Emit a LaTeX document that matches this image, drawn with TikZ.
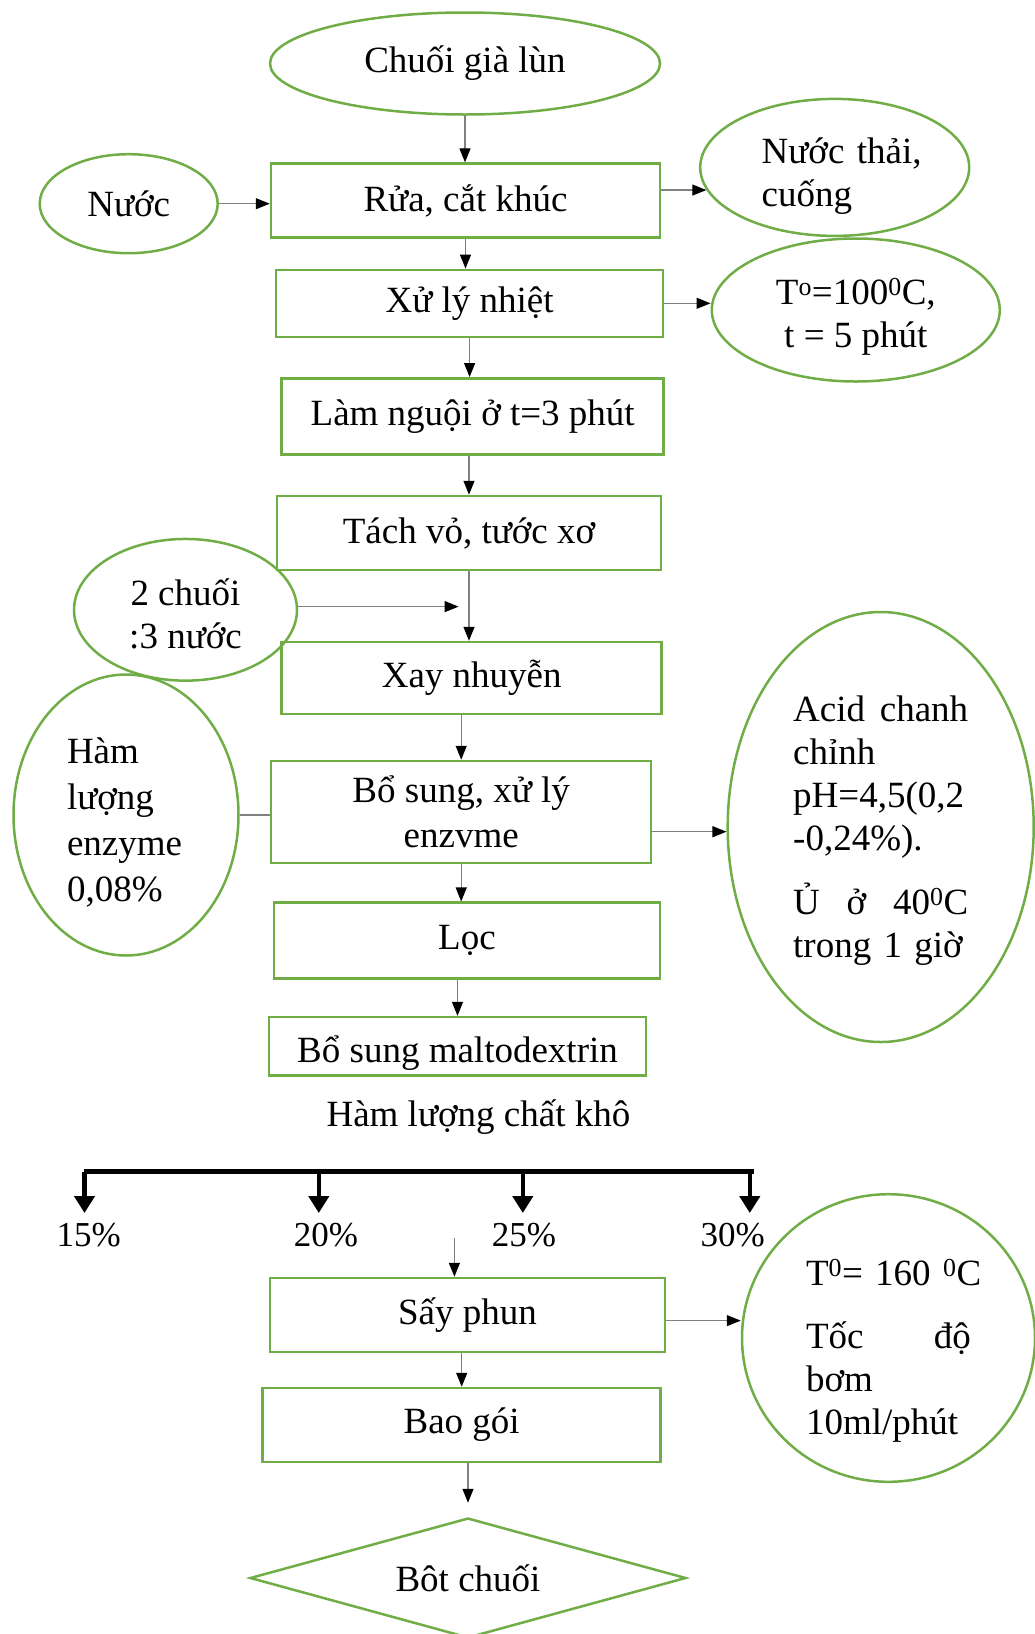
\documentclass[tikz,border=0pt]{standalone}
\usepackage{fontspec}
\setmainfont{Liberation Serif}
\usetikzlibrary{arrows.meta,shapes.geometric}
\definecolor{gborder}{RGB}{112,173,71}
\definecolor{conn}{RGB}{128,128,128}
\begin{document}
\begin{tikzpicture}[x=1pt,y=-1pt,
  box/.style={draw=gborder,line width=2.5pt,rectangle,inner sep=0pt,align=center,font=\fontsize{37}{45}\selectfont},
  oval/.style={draw=gborder,line width=2.5pt,ellipse,inner sep=0pt,font=\fontsize{37}{43}\selectfont},
  arr/.style={draw=conn,line width=1.2pt,-{Triangle[length=14pt,width=11pt,color=black]}},
  plainline/.style={draw=conn,line width=1.2pt},
  barline/.style={draw=black,line width=5.5pt},
  thickarr/.style={draw=black,line width=4.5pt,-{Triangle[length=17pt,width=20pt]}},
  lbl/.style={inner sep=0pt,font=\fontsize{37}{43}\selectfont},
  pct/.style={inner sep=0pt,font=\fontsize{35}{40}\selectfont}
]
\useasboundingbox (0,0) rectangle (1035,1634);

% main column
\node[oval,minimum width=390pt,minimum height=102pt] (e1) at (465,63.5) {Chuối già lùn};
\node[box,minimum width=389pt,minimum height=74pt] (b1) at (465.5,200.6) {Rửa, cắt khúc};
\node[box,minimum width=387pt,minimum height=67pt] (b2) at (469.6,303.3) {Xử lý nhiệt};
\node[box,minimum width=382pt,minimum height=76pt] (b3) at (472.7,416.3) {Làm nguội ở t=3 phút};
\node[box,minimum width=384pt,minimum height=74pt] (b4) at (469,533) {Tách vỏ, tước xơ};
\node[box,minimum width=380pt,minimum height=72pt] (b5) at (471.7,678) {Xay nhuyễn};
\node[box,minimum width=380pt,minimum height=102pt] (b6) at (461.2,812) {Bổ sung, xử lý\\enzvme};
\node[box,minimum width=386pt,minimum height=76pt] (b7) at (467,940.7) {Lọc};
\node[box,minimum width=377pt,minimum height=58.6pt] (b8) at (457.5,1046.4) {\raisebox{-7pt}[\height][\depth]{Bổ sung maltodextrin}};
\node[lbl] (hlck) at (478.4,1117.3) {Hàm lượng chất khô};
\node[box,minimum width=395pt,minimum height=74pt] (b9) at (467.5,1315) {Sấy phun};
\node[box,minimum width=398pt,minimum height=74pt] (b10) at (461.7,1425) {Bao gói};
\node[diamond,draw=gborder,line width=2.5pt,aspect=3.6,inner sep=0pt,minimum width=436pt,minimum height=120pt,font=\fontsize{37}{43}\selectfont] (dia) at (468,1578) {Bôt chuối};

% side ellipses
\node[oval,minimum width=269pt,minimum height=137pt,text width=146pt,align=left] (thai) at (834.7,167.4) {\rule{0pt}{44pt}\makebox[146pt][l]{Nước thải,}\\cuống};
\node[oval,minimum width=178pt,minimum height=99pt] (nuoc) at (128.7,203.7) {Nước};
\node[oval,minimum width=288pt,minimum height=143pt,align=center] (temp) at (855.8,310) {\rule{0pt}{40pt}T\textsuperscript{o}=100\textsuperscript{0}C,\\t = 5 phút};
\node[oval,minimum width=223pt,minimum height=141.7pt,align=center] (hai) at (185.5,609.8) {\rule{0pt}{34pt}2 chuối\\:3 nước};
\node[oval,minimum width=225pt,minimum height=281pt,text width=118pt,align=left,font=\fontsize{37}{46}\selectfont] (ham) at (126,815) {\rule{0pt}{40pt}Hàm\\lượng\\enzyme\\0,08\%};
\node[oval,minimum width=306pt,minimum height=430pt,text width=175pt,align=left] (acid) at (880.7,827) {\rule{0pt}{33pt}Acid\hfill chanh\\chỉnh\\pH=4,5(0,2\\-0,24\%).\\[21pt]Ủ\hfill ở\hfill 40\textsuperscript{0}C\\trong 1 giờ};
\node[oval,inner sep=-12pt,minimum width=293pt,minimum height=287.6pt,text width=165pt,align=left] (spd) at (888.5,1338) {\rule{0pt}{52pt}\makebox[165pt][l]{T\textsuperscript{0}= 160 \textsuperscript{0}C}\\[20pt]Tốc\hfill độ\\bơm\\10ml/phút};

% percent labels
\node[pct] (p15) at (88.6,1235) {15\%};
\node[pct] (p20) at (326,1235) {20\%};
\node[pct] (p25) at (524,1235) {25\%};
\node[pct] (p30) at (732.7,1235) {30\%};

% coordinates
\coordinate (haitip) at (458.6,606.6);
\coordinate (barL) at (84,1171.5);
\coordinate (barR) at (753.8,1171.5);
\coordinate (a1) at (84.5,1171.5);
\coordinate (a2) at (318.8,1171.5);
\coordinate (a3) at (522.8,1171.5);
\coordinate (a4) at (749.8,1171.5);
\coordinate (t1) at (84.5,1213);
\coordinate (t2) at (318.8,1213);
\coordinate (t3) at (522.8,1213);
\coordinate (t4) at (749.8,1213);
\coordinate (sfin) at (454.4,1238);

% connectors
\draw[arr] (e1.south) -- (e1.south |- b1.north);
\draw[arr] (nuoc.east) -- (nuoc.east -| b1.west);
\draw[arr] (b1.east |- thai.190) -- (thai.190);
\draw[arr] (b1.south) -- (b1.south |- b2.north);
\draw[arr] (b2.east) -- (b2.east -| temp.west);
\draw[arr] (b2.south) -- (b2.south |- b3.north);
\draw[arr] (b4.north |- b3.south) -- (b4.north);
\draw[arr] (hai.east |- haitip) -- (haitip);
\draw[arr] (b4.south) -- (b4.south |- b5.north);
\draw[arr] (b6.north |- b5.south) -- (b6.north);
\draw[plainline] (ham.east) -- (ham.east -| b6.west);
\draw[arr] ([yshift=-4.7pt]b6.east |- acid.west) -- ([yshift=-4.7pt]acid.west);
\draw[arr] (b6.south) -- (b6.south |- b7.north);
\draw[arr] (b8.north |- b7.south) -- (b8.north);
\draw[barline] (barL) -- (barR);
\draw[thickarr] (a1) -- (t1);
\draw[thickarr] (a2) -- (t2);
\draw[thickarr] (a3) -- (t3);
\draw[thickarr] (a4) -- (t4);
\draw[arr] (sfin) -- (sfin |- b9.north);
\draw[arr] ([yshift=-5.6pt]b9.east) -- ([yshift=-5.6pt]b9.east -| spd.west);
\draw[arr] (b10.north |- b9.south) -- (b10.north);
\draw[arr] (b10.south -| dia.north) -- ([yshift=14pt]dia.north);
\end{tikzpicture}
\end{document}
